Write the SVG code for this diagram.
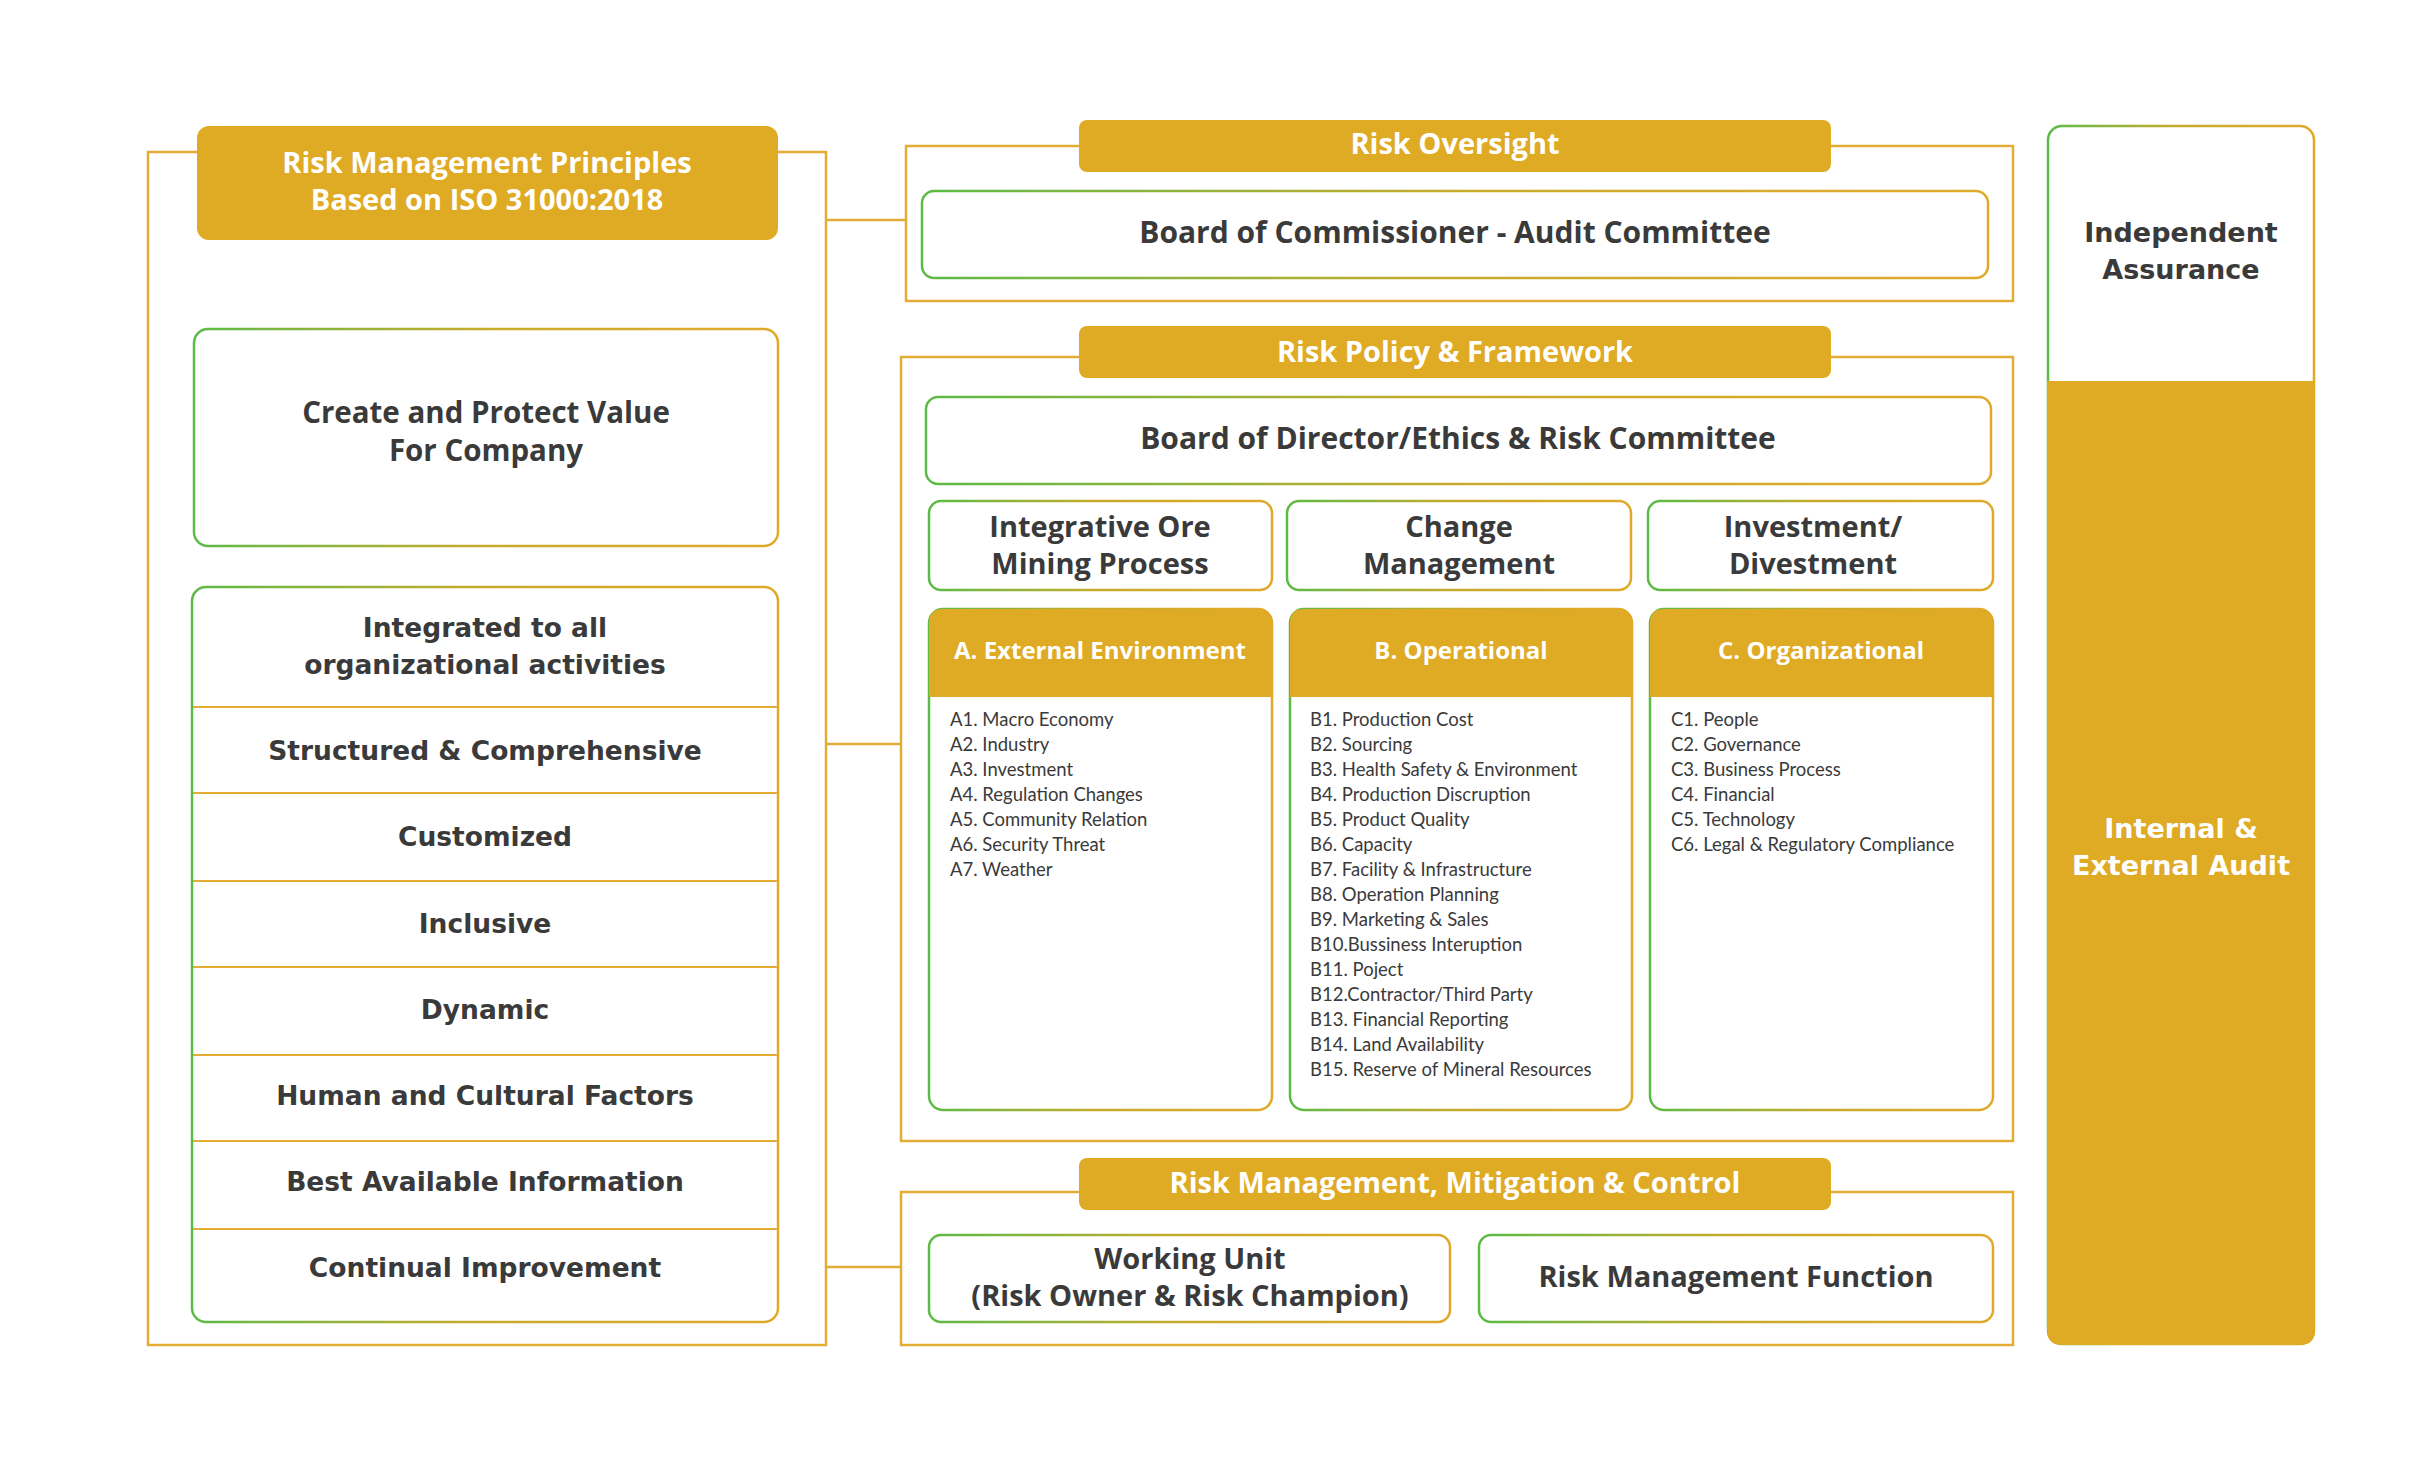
<svg xmlns="http://www.w3.org/2000/svg" width="2411" height="1470" viewBox="0 0 2411 1470">
<defs>
<linearGradient id="gs" x1="0" y1="0" x2="1" y2="0">
<stop offset="0" stop-color="#5cba47"/>
<stop offset="0.5" stop-color="#c9ab2c"/>
<stop offset="1" stop-color="#e0a92a"/>
</linearGradient>
<style>
.outer{fill:none;stroke:#e3ad35;stroke-width:2.5}
.box{fill:#fff;stroke:url(#gs);stroke-width:2.5}
.gold{fill:#dfaa24}
.div{stroke:#e3ad35;stroke-width:2}
.conn{stroke:#e3ad35;stroke-width:2.5;fill:none}
.hd{font-family:"Open Sans",Lato,"Liberation Sans",sans-serif;font-weight:700;fill:#fff;text-anchor:middle}
.bt{font-family:"Open Sans",Lato,"Liberation Sans",sans-serif;font-weight:700;fill:#3a3a3a;text-anchor:middle}
.wide{font-family:"DejaVu Sans","Liberation Sans",sans-serif;font-weight:700;fill:#3a3a3a;text-anchor:middle}
.item{font-family:Lato,"Liberation Sans",sans-serif;font-size:18.5px;fill:#3a3a3a}
</style>
</defs>
<rect width="2411" height="1470" fill="#fff"/>

<g id="connectors">
<line class="conn" x1="826" y1="220" x2="906" y2="220"/>
<line class="conn" x1="826" y1="744" x2="901" y2="744"/>
<line class="conn" x1="826" y1="1267" x2="901" y2="1267"/>
</g>

<g id="principles">
<rect class="outer" x="148" y="152" width="678" height="1193"/>
<rect class="gold" x="197" y="126" width="581" height="114" rx="12"/>
<text class="hd" font-size="29" x="487" y="173">Risk Management Principles</text>
<text class="hd" font-size="29" x="487" y="210">Based on ISO 31000:2018</text>
</g>

<g id="create-value">
<rect class="box" x="194" y="329" width="584" height="217" rx="14"/>
<text class="bt" font-size="29.5" x="486" y="423">Create and Protect Value</text>
<text class="bt" font-size="29.5" x="486" y="461">For Company</text>
</g>

<g id="principle-list">
<rect class="box" x="192" y="587" width="586" height="735" rx="14"/>
<line class="div" x1="193" y1="707" x2="777" y2="707"/>
<line class="div" x1="193" y1="793" x2="777" y2="793"/>
<line class="div" x1="193" y1="881" x2="777" y2="881"/>
<line class="div" x1="193" y1="967" x2="777" y2="967"/>
<line class="div" x1="193" y1="1055" x2="777" y2="1055"/>
<line class="div" x1="193" y1="1141" x2="777" y2="1141"/>
<line class="div" x1="193" y1="1229" x2="777" y2="1229"/>
<text class="wide" font-size="26.5" x="485" y="637">Integrated to all</text>
<text class="wide" font-size="26.5" x="485" y="674">organizational activities</text>
<text class="wide" font-size="26.5" x="485" y="760">Structured &amp; Comprehensive</text>
<text class="wide" font-size="26.5" x="485" y="846">Customized</text>
<text class="wide" font-size="26.5" x="485" y="933">Inclusive</text>
<text class="wide" font-size="26.5" x="485" y="1019">Dynamic</text>
<text class="wide" font-size="26.5" x="485" y="1105">Human and Cultural Factors</text>
<text class="wide" font-size="26.5" x="485" y="1191">Best Available Information</text>
<text class="wide" font-size="26.5" x="485" y="1277">Continual Improvement</text>
</g>

<g id="risk-oversight">
<rect class="outer" x="906" y="146" width="1107" height="155"/>
<rect class="gold" x="1079" y="120" width="752" height="52" rx="8"/>
<text class="hd" font-size="29" x="1455" y="154">Risk Oversight</text>
</g>
<g id="board-commissioner">
<rect class="box" x="922" y="191" width="1066" height="87" rx="12"/>
<text class="bt" font-size="30" x="1455" y="243">Board of Commissioner - Audit Committee</text>
</g>

<g id="risk-policy">
<rect class="outer" x="901" y="357" width="1112" height="784"/>
<rect class="gold" x="1079" y="326" width="752" height="52" rx="8"/>
<text class="hd" font-size="29" x="1455" y="362">Risk Policy &amp; Framework</text>
</g>
<g id="board-director">
<rect class="box" x="926" y="397" width="1065" height="87" rx="12"/>
<text class="bt" font-size="30" x="1458" y="449">Board of Director/Ethics &amp; Risk Committee</text>
</g>
<g id="integrative">
<rect class="box" x="929" y="501" width="343" height="89" rx="12"/>
<text class="bt" font-size="29" x="1100" y="537">Integrative Ore</text>
<text class="bt" font-size="29" x="1100" y="574">Mining Process</text>
</g>
<g id="change-management">
<rect class="box" x="1287" y="501" width="344" height="89" rx="12"/>
<text class="bt" font-size="29" x="1459" y="537">Change</text>
<text class="bt" font-size="29" x="1459" y="574">Management</text>
</g>
<g id="investment">
<rect class="box" x="1648" y="501" width="345" height="89" rx="12"/>
<text class="bt" font-size="29" x="1813" y="537">Investment/</text>
<text class="bt" font-size="29" x="1813" y="574">Divestment</text>
</g>

<g id="cat-a">
<rect class="box" x="929" y="609" width="343" height="501" rx="14"/>
<path class="gold" d="M929,697 V623 Q929,609 943,609 H1258 Q1272,609 1272,623 V697 Z"/>
<text class="hd" font-size="24" x="1100" y="659">A. External Environment</text>
<text class="item" x="950" y="726">A1. Macro Economy</text>
<text class="item" x="950" y="751">A2. Industry</text>
<text class="item" x="950" y="776">A3. Investment</text>
<text class="item" x="950" y="801">A4. Regulation Changes</text>
<text class="item" x="950" y="826">A5. Community Relation</text>
<text class="item" x="950" y="851">A6. Security Threat</text>
<text class="item" x="950" y="876">A7. Weather</text>
</g>

<g id="cat-b">
<rect class="box" x="1290" y="609" width="342" height="501" rx="14"/>
<path class="gold" d="M1290,697 V623 Q1290,609 1304,609 H1618 Q1632,609 1632,623 V697 Z"/>
<text class="hd" font-size="24" x="1461" y="659">B. Operational</text>
<text class="item" x="1310" y="726">B1. Production Cost</text>
<text class="item" x="1310" y="751">B2. Sourcing</text>
<text class="item" x="1310" y="776">B3. Health Safety &amp; Environment</text>
<text class="item" x="1310" y="801">B4. Production Discruption</text>
<text class="item" x="1310" y="826">B5. Product Quality</text>
<text class="item" x="1310" y="851">B6. Capacity</text>
<text class="item" x="1310" y="876">B7. Facility &amp; Infrastructure</text>
<text class="item" x="1310" y="901">B8. Operation Planning</text>
<text class="item" x="1310" y="926">B9. Marketing &amp; Sales</text>
<text class="item" x="1310" y="951">B10.Bussiness Interuption</text>
<text class="item" x="1310" y="976">B11. Poject</text>
<text class="item" x="1310" y="1001">B12.Contractor/Third Party</text>
<text class="item" x="1310" y="1026">B13. Financial Reporting</text>
<text class="item" x="1310" y="1051">B14. Land Availability</text>
<text class="item" x="1310" y="1076">B15. Reserve of Mineral Resources</text>
</g>

<g id="cat-c">
<rect class="box" x="1650" y="609" width="343" height="501" rx="14"/>
<path class="gold" d="M1650,697 V623 Q1650,609 1664,609 H1979 Q1993,609 1993,623 V697 Z"/>
<text class="hd" font-size="24" x="1821" y="659">C. Organizational</text>
<text class="item" x="1671" y="726">C1. People</text>
<text class="item" x="1671" y="751">C2. Governance</text>
<text class="item" x="1671" y="776">C3. Business Process</text>
<text class="item" x="1671" y="801">C4. Financial</text>
<text class="item" x="1671" y="826">C5. Technology</text>
<text class="item" x="1671" y="851">C6. Legal &amp; Regulatory Compliance</text>
</g>

<g id="risk-mitigation">
<rect class="outer" x="901" y="1192" width="1112" height="153"/>
<rect class="gold" x="1079" y="1158" width="752" height="52" rx="8"/>
<text class="hd" font-size="29" x="1455" y="1193">Risk Management, Mitigation &amp; Control</text>
</g>
<g id="working-unit">
<rect class="box" x="929" y="1235" width="521" height="87" rx="12"/>
<text class="bt" font-size="29" x="1190" y="1269">Working Unit</text>
<text class="bt" font-size="29" x="1190" y="1306">(Risk Owner &amp; Risk Champion)</text>
</g>
<g id="rm-function">
<rect class="box" x="1479" y="1235" width="514" height="87" rx="12"/>
<text class="bt" font-size="29" x="1736" y="1287">Risk Management Function</text>
</g>

<g id="assurance">
<rect class="box" x="2048" y="126" width="266" height="1218" rx="14"/>
<path class="gold" d="M2047,381 H2315 V1330 Q2315,1345 2300,1345 H2062 Q2047,1345 2047,1330 Z"/>
<text class="wide" font-size="27" x="2181" y="242">Independent</text>
<text class="wide" font-size="27" x="2181" y="279">Assurance</text>
<text class="wide" font-size="27" x="2181" y="838" style="fill:#fff">Internal &amp;</text>
<text class="wide" font-size="27" x="2181" y="875" style="fill:#fff">External Audit</text>
</g>
</svg>
